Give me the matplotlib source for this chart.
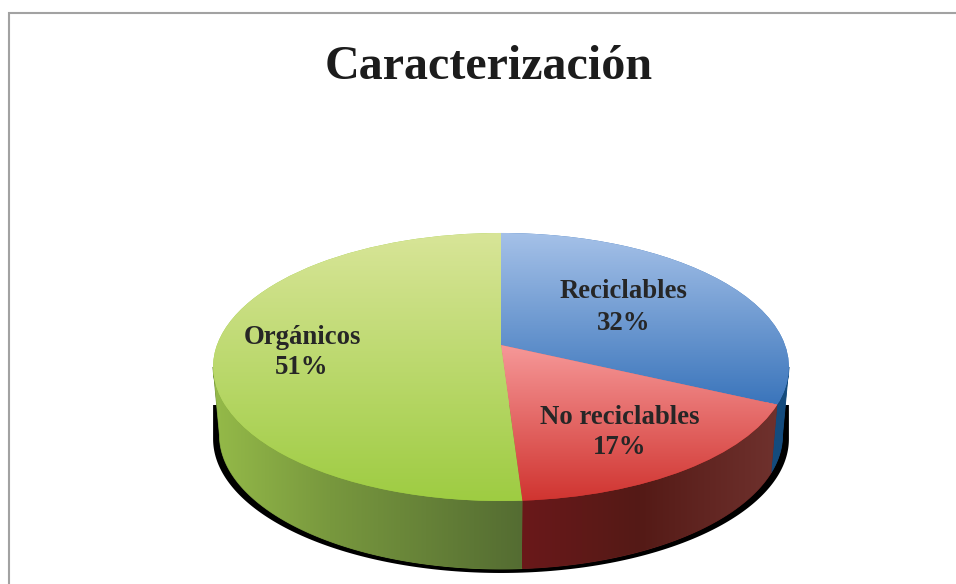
import numpy as np
import matplotlib
matplotlib.use("Agg")
import matplotlib.pyplot as plt
from matplotlib.path import Path
from matplotlib.patches import PathPatch
from matplotlib.transforms import Transform

# ---- data ----
categories = ["Reciclables", "No reciclables", "Orgánicos"]
values = [32, 17, 51]
percent_labels = ["32%", "17%", "51%"]
title = "Caracterización"

# ---- styling / layout ----
W, H = 956, 584
CX, CY_APEX = 501.0, 345.0
A, B, K = 284.0, 130.4, -0.164
WALL_DEPTH, WALL_SCALE = 68.0, 0.978
SHADOW_TOP_Y, SHADOW_BOTTOM = 405.0, 72.0
top_colors = [
    ((165, 193, 232), (60, 118, 188), 233, 402),
    ((246, 152, 152), (208, 52, 48), 345, 501),
    ((216, 229, 152), (158, 204, 66), 233, 501),
]
wall_colors = [
    [(500, (20, 75, 125)), (800, (20, 75, 125))],
    [(500, (106, 24, 26)), (523, (106, 24, 26)), (640, (84, 26, 22)), (780, (112, 50, 46)), (800, (112, 50, 46))],
    [(200, (152, 190, 74)), (330, (120, 152, 62)), (523, (84, 108, 50)), (540, (84, 108, 50))],
]
label_xy = [(624, 292, 323), (620, 418, 447), (302, 338, 368)]


def project(x, y):
    d = 1 - K * y
    return CX + A * x / d, CY_APEX - B * y / d


class PieProjection(Transform):
    input_dims = output_dims = 2
    is_affine = False
    has_inverse = False

    def transform_non_affine(self, xy):
        xy = np.asarray(xy, float)
        return np.column_stack(project(xy[:, 0], xy[:, 1]))


def gradient(axis_len, stops):
    pos = np.array([s[0] for s in stops], float)
    col = np.array([s[1] for s in stops], float) / 255
    t = np.linspace(pos[0], pos[-1], axis_len)
    return np.column_stack([np.interp(t, pos, col[:, i]) for i in range(3)])


plt.rcParams["font.family"] = ["Liberation Serif", "DejaVu Serif"]
fig = plt.figure(figsize=(W / 100, H / 100), dpi=100, facecolor="white")
ax = fig.add_axes([0, 0, 1, 1])

wedges, _ = ax.pie(values, startangle=90, counterclock=False, radius=1,
                   wedgeprops=dict(edgecolor="none"))
ax.set_aspect("auto")
ax.set_xlim(0, W)
ax.set_ylim(H, 0)
ax.axis("off")

# border of the chart frame
ax.plot([9, 9, W], [H, 13, 13], color="#a2a2a2", lw=1.5, zorder=1,
        solid_joinstyle="miter")

# visible part of the rim: between the two silhouette tangent points
t_tan = np.degrees(np.arccos(K))
t_min, t_max = t_tan, 360 - t_tan

# shadow under the disc
front = np.radians(np.linspace(t_min, t_max, 200))
sx, sy = project(np.sin(front), np.cos(front))
shadow = np.vstack([np.column_stack([sx, sy + SHADOW_BOTTOM]),
                    [[sx.min(), SHADOW_TOP_Y], [sx.max(), SHADOW_TOP_Y]]])
ax.add_patch(PathPatch(Path(np.vstack([shadow, shadow[:1]]), closed=True),
                       facecolor="black", edgecolor="none", zorder=2))

# side wall of each slice
edges = np.cumsum([0] + values) / sum(values) * 360
for i in range(len(values)):
    th = np.radians(np.linspace(np.clip(edges[i], t_min, t_max),
                                np.clip(edges[i + 1], t_min, t_max), 200))
    rx, ry = project(np.sin(th), np.cos(th))
    low_x = CX + (rx - CX) * WALL_SCALE
    poly = np.vstack([np.column_stack([rx, ry]),
                      np.column_stack([low_x, ry + WALL_DEPTH])[::-1]])
    stops = wall_colors[i]
    mid = tuple(np.mean([s[1] for s in stops], axis=0) / 255)
    path = Path(np.vstack([poly, poly[:1]]), closed=True)
    ax.add_patch(PathPatch(path, facecolor=mid, edgecolor=mid, lw=0.6, zorder=2.5))
    patch = PathPatch(path, facecolor="none", edgecolor="none", zorder=3)
    ax.add_patch(patch)
    img = gradient(400, stops)[np.newaxis, :, :]
    im = ax.imshow(img, extent=(stops[0][0], stops[-1][0], H, 0), aspect="auto",
                   zorder=3, interpolation="bilinear")
    im.set_clip_path(patch)

# top face of each slice: solid wedge under its clipped gradient
proj = PieProjection() + ax.transData
for w, (c_top, c_bot, y0, y1) in zip(wedges, top_colors):
    w.set_transform(proj)
    w.set_zorder(3.9)
    w.set_facecolor(tuple(np.array(c_bot) / 255))
    img = gradient(300, [(0, c_top), (1, c_bot)])[:, np.newaxis, :]
    im = ax.imshow(img, extent=(200, 800, y1, y0), aspect="auto", zorder=4,
                   interpolation="bilinear")
    im.set_clip_path(w)

ax.set_xlim(0, W)
ax.set_ylim(H, 0)

# texts
for cat, pct, (x, y1, y2) in zip(categories, percent_labels, label_xy):
    ax.text(x, y1, cat, ha="center", va="center", fontsize=19.3, fontweight="bold",
            color="#262626", zorder=6)
    ax.text(x, y2, pct, ha="center", va="center", fontsize=19.3, fontweight="bold",
            color="#262626", zorder=6)
ax.text(489, 67, title, ha="center", va="center", fontsize=34.6, fontweight="bold",
        color="#1c1c1c", zorder=6)

fig.savefig("out.png", dpi=100, facecolor="white")
